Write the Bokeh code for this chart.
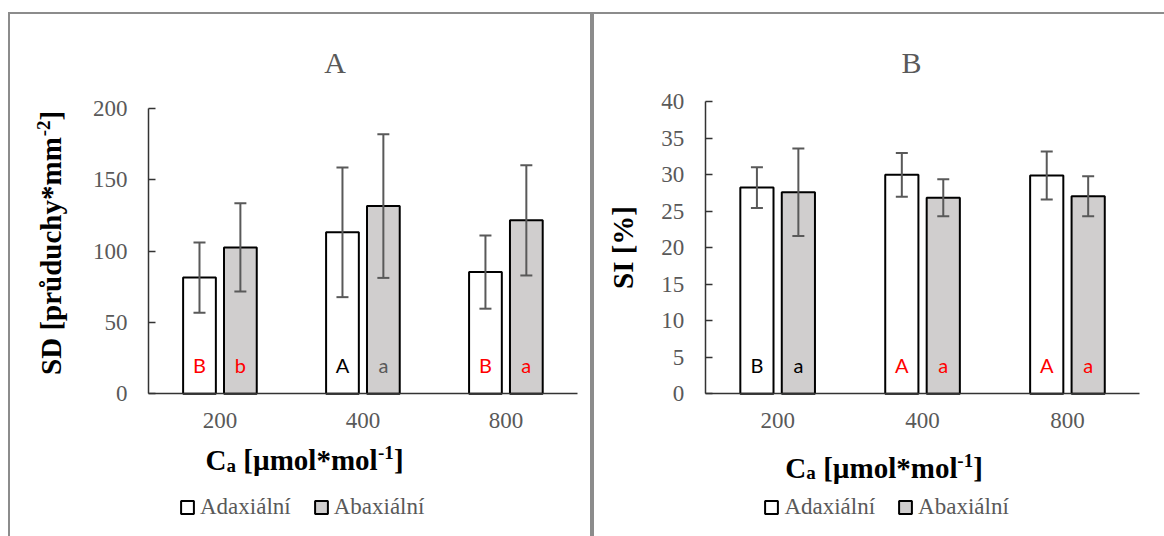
import math
from bokeh.plotting import figure
from bokeh.models import (Range1d, FixedTicker, Label, Legend, LegendItem,
                          Whisker, ColumnDataSource, TeeHead)
from bokeh.layouts import row
from bokeh.embed import file_html
from bokeh.resources import INLINE
from bokeh.core.properties import value

# ---------------- data ----------------
categories = ["200", "400", "800"]
series_names = ["Adaxiální", "Abaxiální"]

sd_adax = [81.4, 113.2, 85.3]
sd_adax_err = [24.7, 45.5, 25.7]
sd_abax = [102.6, 131.6, 121.6]
sd_abax_err = [31.0, 50.4, 38.7]

si_adax = [28.25, 30.0, 29.9]
si_adax_err = [2.8, 3.0, 3.3]
si_abax = [27.6, 26.85, 27.05]
si_abax_err = [6.0, 2.55, 2.75]

sd_ticks = [0, 50, 100, 150, 200]
si_ticks = [0, 5, 10, 15, 20, 25, 30, 35, 40]

sd_letters_adax = ["B", "A", "B"]
sd_letters_adax_col = ["#FF0000", "#000000", "#FF0000"]
sd_letters_abax = ["b", "a", "a"]
sd_letters_abax_col = ["#FF0000", "#595959", "#FF0000"]
si_letters_adax = ["B", "A", "A"]
si_letters_adax_col = ["#000000", "#FF0000", "#FF0000"]
si_letters_abax = ["a", "a", "a"]
si_letters_abax_col = ["#000000", "#FF0000", "#FF0000"]

# axis titles as (text, role) pieces: main / sub / sup; (lead space, text)
x_title_parts = [("C", "main"), ("a", "sub"), (" [µmol*mol", "main"), ("-1", "sup"), ("]", "main")]
sd_title_parts = [("SD [průduchy*mm", "main"), ("-2", "sup"), ("]", "main")]
si_label = "SI [%]"

# ---------------- style ----------------
SERIF = "Liberation Serif"
GRAY = "#595959"
AXIS = "#333333"
ABAX_FILL = "#D0CECE"
BORDER = "2px solid #8c8c8c"
BIG, SMALL = 29, 19
SIZES = {"main": BIG, "sub": SMALL, "sup": SMALL}
SHIFT = {"main": 0, "sub": 5, "sup": -7}
TXT_DY = 11.5      # baseline compensation of the svg text renderer (px)

# Times-Bold advance widths (per 1000 em) for composing sub/superscripts
TB = {"C": 722, "a": 500, " ": 250, "[": 333, "µ": 556, "m": 833, "o": 500,
      "l": 278, "*": 500, "-": 333, "1": 500, "]": 333, "S": 556, "D": 722,
      "p": 556, "r": 444, "ů": 556, "d": 556, "u": 556, "c": 444, "h": 556,
      "y": 500, "2": 500}


def tw(s, px):
    return sum(TB[ch] for ch in s) * px / 1000.0


def make_panel(W, H, bl, br, bt, ox, oy, fl, fr, top_px, fb, ymax, ticks,
               adax, adax_err, abax, abax_err, let_ad, let_ad_c, let_ab, let_ab_c,
               title, title_cx, xt_cx, xt_base, leg_left, ylabel=None):
    cw, ch = W - bl - br, H - bt          # canvas inside the css border
    n = len(categories)
    kx = (fr - fl) / n                    # px per x unit
    ky = (fb - top_px) / ymax             # px per y unit

    def dx(sx):
        return (sx - fl) / kx

    def dy(sy):
        return (fb - sy) / ky

    p = figure(width=W, height=H,
               x_range=Range1d(dx(ox), dx(ox + cw)),
               y_range=Range1d(dy(oy + ch), dy(oy)),
               min_border=0, output_backend="svg", toolbar_location=None,
               tools="")
    p.outline_line_color = None
    p.xgrid.visible = False
    p.ygrid.visible = False
    p.background_fill_color = "white"
    p.border_fill_color = "white"

    # axes fixed at the data origin
    xa = p.xaxis[0]
    xa.fixed_location = 0
    xa.bounds = (0, n)
    xa.ticker = FixedTicker(ticks=[i + 0.5 for i in range(n)])
    xa.major_label_overrides = {i + 0.5: c for i, c in enumerate(categories)}
    xa.major_tick_in = 0
    xa.major_tick_out = 0
    xa.minor_tick_in = 0
    xa.minor_tick_out = 0
    xa.axis_line_color = AXIS
    xa.axis_line_width = 1.5
    xa.major_label_text_font = SERIF
    xa.major_label_text_font_size = "23px"
    xa.major_label_text_color = GRAY
    xa.major_label_standoff = 19

    ya = p.yaxis[0]
    ya.fixed_location = 0
    ya.bounds = (0, ymax)
    ya.ticker = FixedTicker(ticks=ticks)
    ya.major_tick_in = 7
    ya.major_tick_out = 0
    ya.minor_tick_in = 0
    ya.minor_tick_out = 0
    ya.major_tick_line_color = AXIS
    ya.major_tick_line_width = 1.5
    ya.axis_line_color = AXIS
    ya.axis_line_width = 1.5
    ya.major_label_text_font = SERIF
    ya.major_label_text_font_size = "23px"
    ya.major_label_text_color = GRAY
    ya.major_label_standoff = 21
    if ylabel:
        ya.axis_label = ylabel
        ya.axis_label_text_font = SERIF
        ya.axis_label_text_font_style = "bold"
        ya.axis_label_text_font_size = f"{BIG}px"
        ya.axis_label_text_color = "black"
        ya.axis_label_standoff = 20

    # bars
    bw = 0.229
    off = 0.143
    x_ad = [i + 0.5 - off for i in range(n)]
    x_ab = [i + 0.5 + off for i in range(n)]
    r_ad = p.vbar(x=x_ad, top=adax, width=bw, fill_color="white",
                  line_color="black", line_width=2)
    r_ab = p.vbar(x=x_ab, top=abax, width=bw, fill_color=ABAX_FILL,
                  line_color="black", line_width=2)

    # error bars
    for xs, v, e in ((x_ad, adax, adax_err), (x_ab, abax, abax_err)):
        src = ColumnDataSource(dict(x=xs, upper=[a + b for a, b in zip(v, e)],
                                    lower=[a - b for a, b in zip(v, e)]))
        w = Whisker(base="x", upper="upper", lower="lower", source=src,
                    line_color=GRAY, line_width=2, level="overlay",
                    upper_head=TeeHead(size=12, line_color=GRAY, line_width=2),
                    lower_head=TeeHead(size=12, line_color=GRAY, line_width=2))
        p.add_layout(w)

    # significance letters
    ly = dy(374 - 11)
    for xs, lt, lc in ((x_ad, let_ad, let_ad_c), (x_ab, let_ab, let_ab_c)):
        p.text(x=xs, y=[ly] * n, text=lt, text_color=lc,
               text_font=value("Lato"), text_font_size="20px", text_align="center",
               text_baseline="alphabetic")

    # chart title
    p.add_layout(Label(x=dx(title_cx), y=dy(73.5 - TXT_DY), text=title,
                       text_font=SERIF, text_font_size="30px", text_color=GRAY,
                       text_align="center", text_baseline="alphabetic"))

    # x axis title with subscript / superscript
    total = sum(tw(s, SIZES[r]) for s, r in x_title_parts)
    cx = xt_cx - total / 2
    for s, r in x_title_parts:
        lead = len(s) - len(s.lstrip(" "))
        txt = s.lstrip(" ")
        p.add_layout(Label(x=dx(cx + tw(" " * lead, SIZES[r])),
                           y=dy(xt_base + SHIFT[r] - TXT_DY), text=txt,
                           text_font=SERIF, text_font_style="bold",
                           text_font_size=f"{SIZES[r]}px", text_color="black",
                           text_align="left", text_baseline="alphabetic"))
        cx += tw(s, SIZES[r])

    # legend (relative to the frame = whole canvas)
    leg = Legend(items=[LegendItem(label=series_names[0], renderers=[r_ad]),
                        LegendItem(label=series_names[1], renderers=[r_ab])],
                 location=(leg_left - ox, 18),
                 orientation="horizontal", padding=0, margin=0, spacing=22,
                 glyph_width=16, glyph_height=16, label_height=16,
                 label_standoff=5, border_line_color=None,
                 background_fill_alpha=0, label_text_font=SERIF,
                 label_text_font_size="23px", label_text_color=GRAY)
    p.add_layout(leg)

    p.styles = {"border-top": BORDER, "border-left": BORDER,
                **({"border-right": BORDER} if br else {})}
    return p, dx, dy


pA, dxA, dyA = make_panel(584, 524, 2, 2, 2, 10, 14, 147, 573, 107.7, 391.7, 200,
                          sd_ticks, sd_adax, sd_adax_err, sd_abax, sd_abax_err,
                          sd_letters_adax, sd_letters_adax_col,
                          sd_letters_abax, sd_letters_abax_col,
                          "A", 332.4, 302.0, 469.3, 179.0)
pA.margin = (12, 0, 0, 8)

# rotated y-axis title for A (reads bottom to top) with superscript
bx, cy = 59, 373
for s, r in sd_title_parts:
    pA.add_layout(Label(x=dxA(bx + SHIFT[r] - 9), y=dyA(cy), text=s, text_font=SERIF,
                        text_font_style="bold", text_font_size=f"{SIZES[r]}px",
                        text_color="black", text_align="left",
                        text_baseline="alphabetic", angle=math.pi / 2))
    cy -= tw(s, SIZES[r])

pB, dxB, dyB = make_panel(572, 524, 2, 0, 2, 594, 14, 704.3, 1137.5, 101, 391.7, 40,
                          si_ticks, si_adax, si_adax_err, si_abax, si_abax_err,
                          si_letters_adax, si_letters_adax_col,
                          si_letters_abax, si_letters_abax_col,
                          "B", 910.0, 882.6, 477.0, 763.4, ylabel=si_label)
pB.margin = (12, 0, 0, 0)

layout = row(pA, pB)
open("out.html", "w").write(file_html(layout, INLINE))
